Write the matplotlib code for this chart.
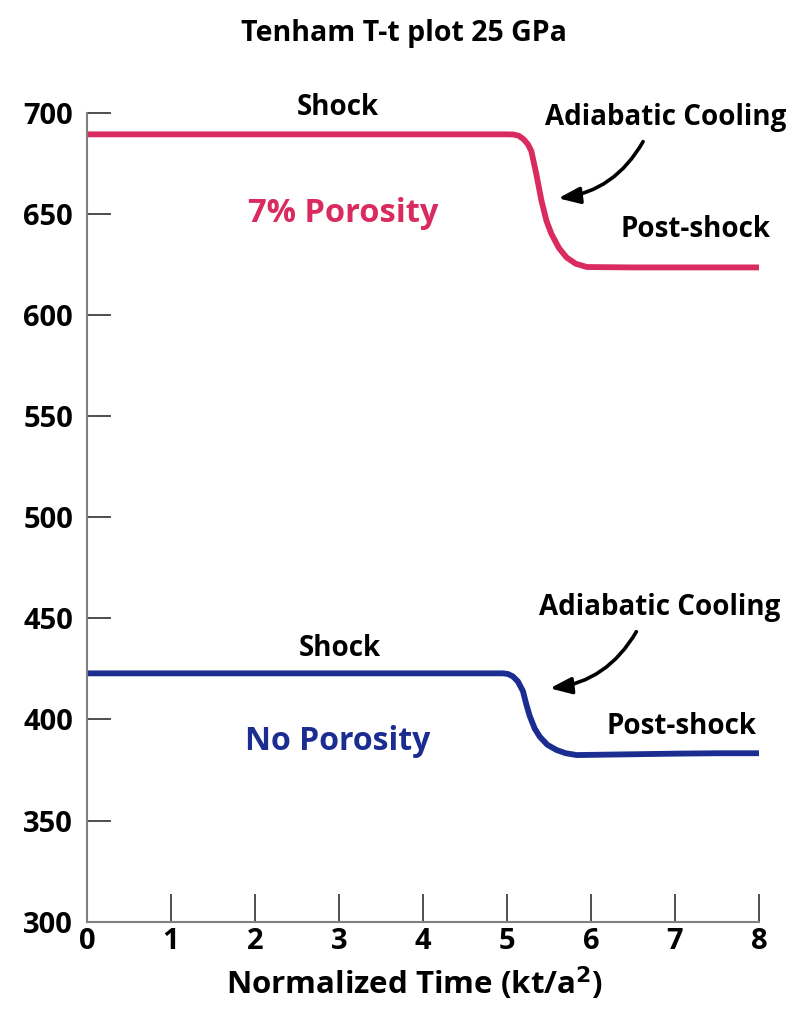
import matplotlib
matplotlib.use('Agg')
from matplotlib import pyplot

pyplot.rcParams['font.family'] = ['Open Sans', 'DejaVu Sans']
pyplot.rcParams['font.weight'] = 'bold'

# temperature histories (normalized time, temperature)
porous_t = [0.0, 1.0, 2.0, 3.0, 4.0, 5.0, 5.08, 5.14, 5.2, 5.25, 5.29, 5.35,
            5.41, 5.47, 5.53, 5.62, 5.71, 5.82, 5.95, 6.5, 7.0, 7.5, 8.0]
porous_T = [689.3, 689.3, 689.3, 689.3, 689.3, 689.3, 689.2, 688.6, 686.8,
            684.3, 681.0, 669.5, 656.6, 646.5, 640.0, 633.0, 628.4, 625.3,
            623.7, 623.5, 623.5, 623.5, 623.5]

dense_t = [0.0, 1.0, 2.0, 3.0, 4.0, 4.95, 5.01, 5.07, 5.13, 5.19, 5.23, 5.27,
           5.33, 5.39, 5.48, 5.59, 5.7, 5.83, 6.0, 6.5, 7.0, 7.5, 8.0]
dense_T = [422.8, 422.8, 422.8, 422.8, 422.8, 422.8, 422.5, 421.3, 418.8,
           414.0, 407.5, 401.8, 395.5, 391.5, 387.5, 384.9, 383.3, 382.4,
           382.5, 382.8, 383.1, 383.3, 383.3]

x_ticks = [0, 1, 2, 3, 4, 5, 6, 7, 8]
y_ticks = [300, 350, 400, 450, 500, 550, 600, 650, 700]

red = '#d92b5f'
blue = '#1c2d92'

fig = pyplot.figure(figsize=(8.07, 10.09), dpi=100)
ax = fig.add_axes([0.1078, 0.0865, 0.8327, 0.8018])

ax.plot(porous_t, porous_T, color=red, linewidth=4.2, solid_capstyle='butt')
ax.plot(dense_t, dense_T, color=blue, linewidth=4.2, solid_capstyle='butt')

ax.set_xlim(0, 8)
ax.set_ylim(300, 700)
ax.set_xticks(x_ticks)
ax.set_yticks(y_ticks)
for side in ('top', 'right'):
  ax.spines[side].set_visible(False)
for side in ('left', 'bottom'):
  ax.spines[side].set_color('#808080')
  ax.spines[side].set_linewidth(1.5)
ax.tick_params(axis='x', direction='in', length=20, width=1.3,
               color='#404040', labelsize=21, pad=4)
ax.tick_params(axis='y', direction='in', length=17, width=1.3,
               color='#404040', labelsize=21, pad=10)
ax.set_xlabel('Normalized Time (kt/a$^{\\mathbf{2}}$)', fontsize=22.5,
              fontweight='bold', labelpad=6)
ax.xaxis.label.set_x(0.488)

fig.text(0.5, 0.967, 'Tenham T-t plot 25 GPa', ha='center', va='center',
         fontsize=20.5, fontweight='bold')

arrow = dict(arrowstyle='-|>,head_length=1.3,head_width=0.5',
             color='black', linewidth=2.6, shrinkA=0, shrinkB=0,
             connectionstyle='arc3,rad=-0.25')

# annotations for the porous sample
ax.text(2.99, 702.8, 'Shock', ha='center', va='center', fontsize=20)
ax.text(6.89, 697.4, 'Adiabatic Cooling', ha='center', va='center',
        fontsize=20, clip_on=False)
ax.text(7.24, 642.4, 'Post-shock', ha='center', va='center', fontsize=20)
ax.text(3.05, 650.3, '7% Porosity', ha='center', va='center', fontsize=23.5,
        color=red)
ax.annotate('', xy=(5.61, 657.7), xytext=(6.62, 685.7), arrowprops=arrow)

# annotations for the non-porous sample
ax.text(3.01, 435.2, 'Shock', ha='center', va='center', fontsize=20)
ax.text(6.82, 455.6, 'Adiabatic Cooling', ha='center', va='center',
        fontsize=20, clip_on=False)
ax.text(7.08, 396.3, 'Post-shock', ha='center', va='center', fontsize=20)
ax.text(2.99, 389.3, 'No Porosity', ha='center', va='center', fontsize=23,
        color=blue)
ax.annotate('', xy=(5.51, 415.4), xytext=(6.54, 443.4), arrowprops=arrow)

pyplot.savefig('out.png', dpi=100)
